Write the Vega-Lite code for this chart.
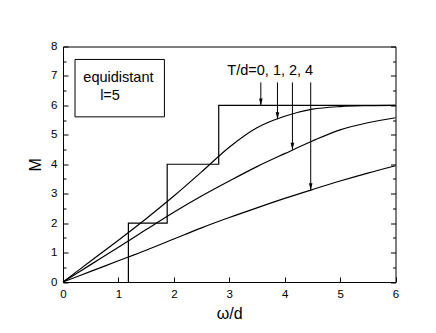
{
  "$schema": "https://vega.github.io/schema/vega-lite/v6.json",
  "width": 332.5,
  "height": 235.5,
  "autosize": "none",
  "padding": {"left": 63, "top": 46.5, "right": 40.5, "bottom": 51},
  "config": {
    "view": {"stroke": "black", "strokeWidth": 1},
    "font": "Liberation Sans",
    "axis": {
      "domainColor": "black",
      "tickColor": "black",
      "labelColor": "black",
      "titleColor": "black",
      "grid": false,
      "labelFont": "Liberation Sans",
      "titleFont": "Liberation Sans",
      "titleFontWeight": "normal",
      "labelFontSize": 11.5,
      "titleFontSize": 16
    }
  },
  "datasets": {
    "curves": [
      {"s": "1", "x": 0, "y": 0}, {"s": "1", "x": 0.5, "y": 0.71}, {"s": "1", "x": 1, "y": 1.42},
      {"s": "1", "x": 1.5, "y": 2.15}, {"s": "1", "x": 2, "y": 2.92}, {"s": "1", "x": 2.5, "y": 3.74},
      {"s": "1", "x": 3, "y": 4.58}, {"s": "1", "x": 3.5, "y": 5.24}, {"s": "1", "x": 4, "y": 5.63},
      {"s": "1", "x": 4.5, "y": 5.87}, {"s": "1", "x": 5, "y": 5.96}, {"s": "1", "x": 5.5, "y": 5.99},
      {"s": "1", "x": 6, "y": 6.0},
      {"s": "2", "x": 0, "y": 0}, {"s": "2", "x": 0.5, "y": 0.59}, {"s": "2", "x": 1, "y": 1.18},
      {"s": "2", "x": 1.5, "y": 1.78}, {"s": "2", "x": 2, "y": 2.37}, {"s": "2", "x": 2.5, "y": 2.92},
      {"s": "2", "x": 3, "y": 3.43}, {"s": "2", "x": 3.5, "y": 3.92}, {"s": "2", "x": 4, "y": 4.36},
      {"s": "2", "x": 4.5, "y": 4.79}, {"s": "2", "x": 5, "y": 5.17}, {"s": "2", "x": 5.5, "y": 5.41},
      {"s": "2", "x": 6, "y": 5.58},
      {"s": "4", "x": 0, "y": 0}, {"s": "4", "x": 0.5, "y": 0.36}, {"s": "4", "x": 1, "y": 0.72},
      {"s": "4", "x": 1.5, "y": 1.08}, {"s": "4", "x": 2, "y": 1.46}, {"s": "4", "x": 2.5, "y": 1.84},
      {"s": "4", "x": 3, "y": 2.19}, {"s": "4", "x": 3.5, "y": 2.52}, {"s": "4", "x": 4, "y": 2.84},
      {"s": "4", "x": 4.5, "y": 3.14}, {"s": "4", "x": 5, "y": 3.43}, {"s": "4", "x": 5.5, "y": 3.7},
      {"s": "4", "x": 6, "y": 3.95}
    ],
    "stairs": [
      {"o": 1, "x": 1.18, "y": 0}, {"o": 2, "x": 1.18, "y": 2}, {"o": 3, "x": 1.88, "y": 2},
      {"o": 4, "x": 1.88, "y": 4}, {"o": 5, "x": 2.81, "y": 4}, {"o": 6, "x": 2.81, "y": 6},
      {"o": 7, "x": 6, "y": 6}
    ],
    "arrows": [
      {"x": 3.57, "y1": 6.78, "y2": 6.0},
      {"x": 3.87, "y1": 6.78, "y2": 5.53},
      {"x": 4.14, "y1": 6.78, "y2": 4.49},
      {"x": 4.47, "y1": 6.78, "y2": 3.12}
    ],
    "box": [{"x1": 0.217, "x2": 1.83, "y1": 5.61, "y2": 7.56}],
    "texts": [
      {"x": 0.367, "y": 6.8, "t": "equidistant"},
      {"x": 0.67, "y": 6.18, "t": "l=5"}
    ],
    "label": [{"x": 3.74, "y": 7.03, "t": "T/d=0, 1, 2, 4"}]
  },
  "resolve": {"axis": {"y": "independent"}},
  "layer": [
    {
      "data": {"name": "curves"},
      "mark": {"type": "line", "color": "black", "strokeWidth": 1.2, "interpolate": "catmull-rom"},
      "encoding": {
        "x": {
          "field": "x", "type": "quantitative",
          "scale": {"domain": [0, 6], "nice": false},
          "axis": {
            "title": "ω/d",
            "values": [0, 0.5, 1, 1.5, 2, 2.5, 3, 3.5, 4, 4.5, 5, 5.5, 6],
            "labelExpr": "datum.value % 1 === 0 ? format(datum.value, 'd') : ''",
            "tickSize": {"condition": {"test": "datum.value % 1 === 0", "value": -5}, "value": -3},
            "labelPadding": 11,
            "labelFlush": false,
            "titlePadding": 6
          }
        },
        "y": {
          "field": "y", "type": "quantitative",
          "scale": {"domain": [0, 8], "nice": false},
          "axis": {
            "title": "M",
            "titleAngle": 270,
            "orient": "left",
            "values": [0, 0.5, 1, 1.5, 2, 2.5, 3, 3.5, 4, 4.5, 5, 5.5, 6, 6.5, 7, 7.5, 8],
            "labelExpr": "datum.value % 1 === 0 ? format(datum.value, 'd') : ''",
            "tickSize": {"condition": {"test": "datum.value % 1 === 0", "value": -5}, "value": -3},
            "labelPadding": 11,
            "labelFlush": false,
            "titlePadding": 7
          }
        },
        "detail": {"field": "s"}
      }
    },
    {
      "data": {"name": "stairs"},
      "mark": {"type": "line", "color": "black", "strokeWidth": 1.2, "interpolate": "linear"},
      "encoding": {
        "x": {"field": "x", "type": "quantitative", "scale": {"domain": [0, 6], "nice": false}},
        "y": {
          "field": "y", "type": "quantitative",
          "scale": {"domain": [0, 8], "nice": false},
          "axis": {
            "orient": "right",
            "title": null,
            "labels": false,
            "domain": false,
            "values": [0, 0.5, 1, 1.5, 2, 2.5, 3, 3.5, 4, 4.5, 5, 5.5, 6, 6.5, 7, 7.5, 8],
            "tickSize": {"condition": {"test": "datum.value % 1 === 0", "value": -5}, "value": -3}
          }
        },
        "order": {"field": "o", "type": "quantitative"}
      }
    },
    {
      "data": {"name": "arrows"},
      "mark": {"type": "rule", "color": "black", "strokeWidth": 1},
      "encoding": {
        "x": {"field": "x", "type": "quantitative"},
        "y": {"field": "y1", "type": "quantitative", "axis": null},
        "y2": {"field": "y2"}
      }
    },
    {
      "data": {"name": "arrows"},
      "mark": {"type": "point", "shape": "M-0.45,-1.75L0.45,-1.75L0,0Z", "size": 64, "filled": true, "color": "black", "opacity": 1, "strokeWidth": 0},
      "encoding": {
        "x": {"field": "x", "type": "quantitative"},
        "y": {"field": "y2", "type": "quantitative", "axis": null}
      }
    },
    {
      "data": {"name": "box"},
      "mark": {"type": "rect", "fill": null, "fillOpacity": 0, "stroke": "black", "strokeWidth": 1},
      "encoding": {
        "x": {"field": "x1", "type": "quantitative"},
        "x2": {"field": "x2"},
        "y": {"field": "y1", "type": "quantitative", "axis": null},
        "y2": {"field": "y2"}
      }
    },
    {
      "data": {"name": "texts"},
      "mark": {"type": "text", "align": "left", "baseline": "alphabetic", "fontSize": 14.5, "color": "black", "font": "Liberation Sans"},
      "encoding": {
        "x": {"field": "x", "type": "quantitative"},
        "y": {"field": "y", "type": "quantitative", "axis": null},
        "text": {"field": "t"}
      }
    },
    {
      "data": {"name": "label"},
      "mark": {"type": "text", "align": "center", "baseline": "alphabetic", "fontSize": 14.5, "color": "black", "font": "Liberation Sans"},
      "encoding": {
        "x": {"field": "x", "type": "quantitative"},
        "y": {"field": "y", "type": "quantitative", "axis": null},
        "text": {"field": "t"}
      }
    }
  ]
}
